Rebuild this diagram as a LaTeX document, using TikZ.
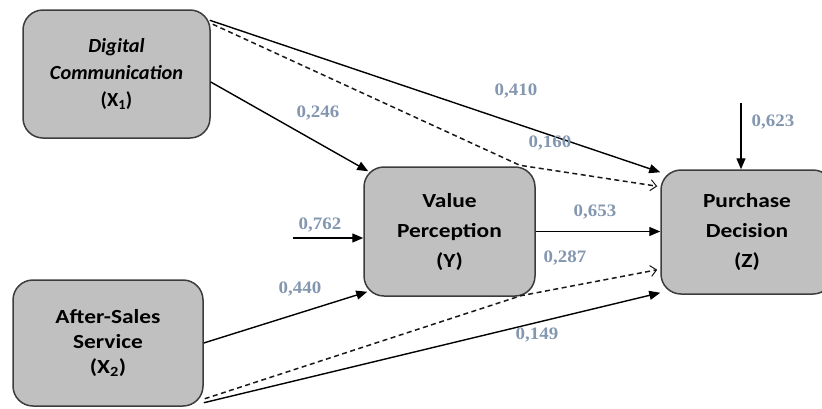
\documentclass[tikz,border=0pt]{standalone}
\usepackage{fontspec}
\usetikzlibrary{arrows.meta,calc}
\setmainfont{Carlito}
\newfontfamily\boxfont{Carlito}[FakeStretch=1.17]
\newfontfamily\boxfontn{Carlito}[FakeStretch=1.02]
\newfontfamily\labfont{Liberation Serif}[FakeStretch=1.08]
\definecolor{labcol}{RGB}{132,151,176}
\definecolor{boxfill}{RGB}{192,192,192}
\definecolor{boxdraw}{RGB}{60,60,60}
\tikzset{
  varbox/.style={draw=boxdraw, fill=boxfill, line width=1.5pt, rounded corners=20pt,
    rectangle, align=center, inner sep=0pt, font=\boxfont\bfseries\fontsize{20}{30}\selectfont},
  solidarr/.style={draw=black, line width=1.4pt, -{Triangle[length=11pt,width=9pt]}},
  dasharr/.style={draw=black!90, line width=1.5pt, dash pattern=on 5pt off 3.5pt,
    -{Straight Barb[length=6pt,width=11pt,line width=1pt]}},
  coef/.style={text=labcol, font=\labfont\bfseries\fontsize{17.5}{20}\selectfont, inner sep=0pt}
}
\begin{document}
\begin{tikzpicture}[x=1pt,y=-1pt]
\useasboundingbox (0,0) rectangle (822,408);
\clip (0,0) rectangle (822,408);

\node[varbox, minimum width=187pt, minimum height=128pt,
  font=\boxfontn\bfseries\fontsize{20}{27}\selectfont] (X1) at (116.5,74)
  {\itshape Digital\\ \itshape Communication\\ (X\textsubscript{1})};
\node[varbox, minimum width=190pt, minimum height=126pt,
  font=\boxfont\bfseries\fontsize{20}{25}\selectfont] (X2) at (108,343)
  {After-Sales\\ Service\\ (X\textsubscript{2})};
\node[varbox, minimum width=171pt, minimum height=129pt] (Y) at (449.5,231.5)
  {Value\\ Perception\\ (Y)};
\node[varbox, minimum width=172pt, minimum height=124pt] (Z) at (747,232)
  {Purchase\\ Decision\\ (Z)};

\coordinate (e1) at (293,238);
\coordinate (e2) at (741,103);

% X1 paths
\draw[solidarr] ($(X1.north east)+(-1,11)$) -- ($(Z.north west)+(0,3)$);
\draw[dasharr] ($(X1.north east)+(2,15)$) -- ($(Y.north east)+(-16,-1)$) -- ($(Z.north west)+(-3,17)$);
\draw[solidarr] ($(X1.east)+(0,8)$) -- ($(Y.north west)+(5,5)$);
% X2 paths
\draw[solidarr] (X2.east) -- ($(Y.south west)+(4,-5)$);
\draw[dasharr] ($(X2.south east)+(1,-8)$) -- ($(Y.south east)+(-15,-1)$) -- ($(Z.south west)+(-3,-25)$);
\draw[solidarr] ($(X2.south east)+(0,-4)$) -- ($(Z.south west)+(0,-2)$);
% Y to Z
\draw[solidarr] (Y.east) -- (Y.east -| Z.west);
% error terms
\draw[solidarr] (e1) -- (e1 -| Y.west);
\draw[solidarr] (e2) -- (e2 |- Z.north);

% coefficients
\node[coef] (c410) at (516,91) {0,410};
\node[coef] (c160) at (550,143) {0,160};
\node[coef] (c246) at (318,113) {0,246};
\node[coef] (c762) at (320,225) {0,762};
\node[coef] (c440) at (300,289) {0,440};
\node[coef] (c653) at (595,212) {0,653};
\node[coef] (c287) at (565,258) {0,287};
\node[coef] (c149) at (537,335) {0,149};
\node[coef] (c623) at (773,122) {0,623};
\end{tikzpicture}
\end{document}
